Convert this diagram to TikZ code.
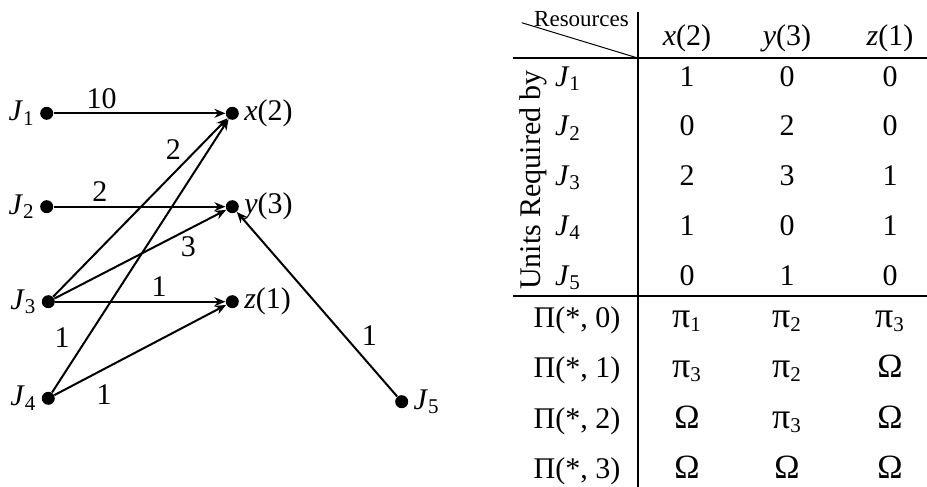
\documentclass[tikz,border=0pt]{standalone}
\usepackage{fontspec}
\setmainfont{Liberation Serif}
\usetikzlibrary{arrows.meta}
\newcommand{\Jb}[1]{\textit{J}\textsubscript{#1}}
\newcommand{\res}[2]{\textit{#1}(#2)}
\newcommand{\pib}[1]{{\fontsize{18}{18}\selectfont π}\textsubscript{#1}}
\newcommand{\Om}{{\fontsize{17}{18}\selectfont Ω}}
\tikzset{
  vdot/.style={circle,fill=black,inner sep=0pt,minimum size=6.5pt},
  arr/.style={-{Stealth[length=5.5pt,width=4.5pt]},line width=1pt},
  cell/.style={inner sep=0pt,anchor=base},
  rule/.style={line width=1pt},
}

\begin{document}
\begin{tikzpicture}[x=0.5pt,y=-0.5pt,font=\fontsize{15}{18}\selectfont]
    \useasboundingbox (0,0) rectangle (927,487);
    % jobs and resources
    \node[vdot,label={[label distance=-1pt]left:\Jb{1}}] (j1) at (46.7,113.3) {};
    \node[vdot,label={[label distance=-1pt]left:\Jb{2}}] (j2) at (46.7,206.7) {};
    \node[vdot,label={[label distance=-1pt]left:\Jb{3}}] (j3) at (48.3,301.7) {};
    \node[vdot,label={[label distance=-1pt]left:\Jb{4}}] (j4) at (48.3,398.3) {};
    \node[vdot,label={[label distance=-1pt]right:\Jb{5}}] (j5) at (401.7,401.7) {};
    \node[vdot,label={[label distance=-1pt]right:\res{x}{2}}] (rx) at (232.3,113.3) {};
    \node[vdot,label={[label distance=-1pt]right:\res{y}{3}}] (ry) at (232.3,206.7) {};
    \node[vdot,label={[label distance=-1pt]right:\res{z}{1}}] (rz) at (232.3,301.7) {};
    \draw[arr] (j1)--(rx) node[pos=0.28,above,inner sep=2pt]{10};
    \draw[arr] (j2)--(ry) node[pos=0.27,above,inner sep=2pt]{2};
    \draw[arr] (j3)--(rx) node[pos=0.75,above left,inner sep=1pt]{2};
    \draw[arr] (j3)--(ry) node[pos=0.78,below,inner sep=3pt]{3};
    \draw[arr] (j3)--(rz) node[pos=0.61,above,inner sep=2pt]{1};
    \draw[arr] (j4)--(rx) node[pos=0.2,left=5pt]{1};
    \draw[arr] (j4)--(rz) node[pos=0.29,below=4pt]{1};
    \draw[arr] (j5)--(ry) node[pos=0.33,right=5pt]{1};

    % table
    \coordinate (tl) at (513,58);
    \coordinate (tr) at (927,58);
    \coordinate (ml) at (513,296);
    \coordinate (mr) at (927,296);
    \coordinate (vt) at (637.7,12);
    \coordinate (vb) at (637.7,487);
    \coordinate (dg) at (521.7,22.7);
    \draw[rule] (tl)--(tr);
    \draw[rule] (ml)--(mr);
    \draw[rule] (vt)--(vb);
    \draw[line width=0.5pt] (dg)--(637.7,58);
    \node[cell,font=\fontsize{11.5}{13}\selectfont] (hres) at (581.5,26.7) {Resources};
    \node[cell] (hx) at (687,46) {\res{x}{2}};
    \node[cell] (hy) at (787,46) {\res{y}{3}};
    \node[cell] (hz) at (890,46) {\res{z}{1}};
    \node[rotate=90,inner sep=0pt] (units) at (533,180) {Units Required by};
    \foreach \j/\a/\b/\c [count=\k from 0] in {1/1/0/0,2/0/2/0,3/2/3/1,4/1/0/1,5/0/1/0} {
      \node[cell] (rj\j) at (568,86+49.8*\k) {\Jb{\j}};
      \node[cell] (cx\j) at (687,86+49.8*\k) {\a};
      \node[cell] (cy\j) at (787,86+49.8*\k) {\b};
      \node[cell] (cz\j) at (890,86+49.8*\k) {\c};
    }
    \foreach \a/\b/\c [count=\k from 0] in {\pib{1}/\pib{2}/\pib{3},\pib{3}/\pib{2}/\Om,\Om/\pib{3}/\Om,\Om/\Om/\Om} {
      \node[cell] (pl\k) at (577,327+50.5*\k) {Π(*, \k)};
      \node[cell] (px\k) at (687,327+50.5*\k) {\a};
      \node[cell] (py\k) at (787,327+50.5*\k) {\b};
      \node[cell] (pz\k) at (890,327+50.5*\k) {\c};
    }
\end{tikzpicture}
\end{document}
